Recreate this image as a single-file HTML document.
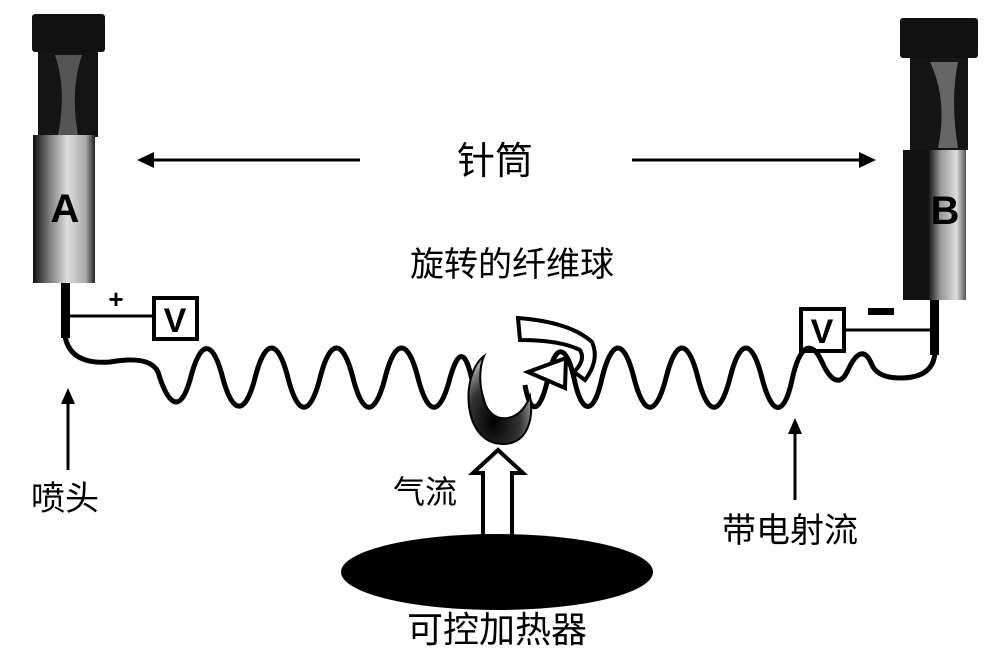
<!DOCTYPE html>
<html><head><meta charset="utf-8"><style>
html,body{margin:0;padding:0;background:#fff}
svg{display:block}
text{font-family:"Liberation Sans","Noto Sans CJK SC",sans-serif;fill:#000}
</style></head><body>
<svg width="1000" height="656" viewBox="0 0 1000 656" xmlns="http://www.w3.org/2000/svg">
<defs>
<linearGradient id="lg" x1="0" x2="1" y1="0" y2="0">
<stop offset="0" stop-color="#111"/><stop offset="0.25" stop-color="#777"/><stop offset="0.55" stop-color="#ddd"/><stop offset="0.85" stop-color="#aaa"/><stop offset="1" stop-color="#222"/>
</linearGradient>
<linearGradient id="lgb" x1="0" x2="1" y1="0" y2="0">
<stop offset="0" stop-color="#111"/><stop offset="0.4" stop-color="#111"/><stop offset="0.6" stop-color="#999"/><stop offset="0.85" stop-color="#ddd"/><stop offset="1" stop-color="#555"/>
</linearGradient>
<radialGradient id="ball" cx="0.4" cy="0.75" r="0.7">
<stop offset="0" stop-color="#000"/><stop offset="0.6" stop-color="#333"/><stop offset="1" stop-color="#aaa"/>
</radialGradient>
</defs>

<!-- Syringe A -->
<rect x="32" y="14" width="73" height="38" rx="3" fill="#111"/>
<rect x="38" y="52" width="60" height="85" fill="#151515"/>
<path d="M55 55 Q67 90 58 135 L78 135 Q70 90 82 55 Z" fill="#555"/>
<rect x="33" y="135" width="62" height="148" fill="url(#lg)"/>
<text x="65" y="222" font-size="40" font-weight="bold" text-anchor="middle">A</text>
<rect x="61" y="283" width="9" height="55" fill="#000"/>
<line x1="70" y1="316" x2="153" y2="316" stroke="#000" stroke-width="3"/>
<text x="116" y="308" font-size="26" font-weight="bold" text-anchor="middle">+</text>
<rect x="154" y="298" width="43" height="41" fill="#fff" stroke="#000" stroke-width="4"/>
<text x="175" y="332" font-size="34" font-weight="bold" text-anchor="middle">V</text>

<!-- Syringe B -->
<rect x="900" y="18" width="78" height="40" rx="3" fill="#111"/>
<rect x="910" y="58" width="58" height="92" fill="#151515"/>
<path d="M930 62 Q948 100 938 148 L958 148 Q950 100 958 62 Z" fill="#666"/>
<rect x="903" y="150" width="63" height="150" fill="url(#lgb)"/>
<text x="945" y="224" font-size="40" font-weight="bold" text-anchor="middle" fill="#111">B</text>
<rect x="930" y="300" width="9" height="55" fill="#000"/>
<line x1="845" y1="330" x2="932" y2="330" stroke="#000" stroke-width="3"/>
<rect x="868" y="308" width="26" height="7" fill="#000"/>
<rect x="801" y="309" width="43" height="42" fill="#fff" stroke="#000" stroke-width="4"/>
<text x="822" y="343" font-size="34" font-weight="bold" text-anchor="middle">V</text>

<!-- Jets -->
<path d="M65 336 Q70 365 110 362 Q150 355 158 372 C168 405 180 415 190 380 C200 340 212 338 222 375 C232 415 245 417 255 378 C265 338 278 338 288 378 C298 417 310 417 320 378 C330 338 343 338 353 378 C363 417 375 417 385 378 C395 338 408 338 418 378 C428 417 440 417 450 378 C458 350 465 348 472 380"
 fill="none" stroke="#000" stroke-width="5"/>
<path d="M935 350 Q935 378 900 378 Q878 378 872 365 C864 345 855 355 848 370 C840 388 830 380 822 362 C812 340 800 343 792 380 C784 417 772 417 762 378 C752 338 740 338 730 378 C720 417 708 417 698 378 C688 338 676 338 666 378 C656 417 644 417 634 378 C624 338 612 338 602 378 C594 415 582 417 574 378 C566 343 555 343 548 378 C540 415 530 415 525 385"
 fill="none" stroke="#000" stroke-width="5"/>

<!-- ball -->
<path d="M484 356 C460 375 462 444 503 444 C528 444 534 418 530 396 C520 425 490 425 484 400 C479 385 479 368 484 356 Z" fill="url(#ball)" stroke="#000" stroke-width="2"/>
<!-- rotation arrow -->
<path d="M518 318 L520 340 Q560 340 580 350 Q586 360 574 372 L585 380 Q600 360 592 342 Q570 322 518 318 Z" fill="#fff" stroke="#000" stroke-width="4"/>
<path d="M528 372 L566 358 L565 388 Z" fill="#fff" stroke="#000" stroke-width="4"/>

<!-- arrows -->
<line x1="360" y1="160" x2="150" y2="160" stroke="#000" stroke-width="3"/>
<path d="M137 160 L154 152 L154 168 Z" fill="#000"/>
<line x1="632" y1="160" x2="862" y2="160" stroke="#000" stroke-width="3"/>
<path d="M876 160 L859 152 L859 168 Z" fill="#000"/>
<line x1="68" y1="470" x2="68" y2="400" stroke="#000" stroke-width="3"/>
<path d="M68 388 L61 404 L75 404 Z" fill="#000"/>
<line x1="795" y1="500" x2="795" y2="430" stroke="#000" stroke-width="3"/>
<path d="M795 418 L788 434 L802 434 Z" fill="#000"/>

<!-- hollow airflow arrow -->
<path d="M483 535 L483 473 L473 473 L498 450 L523 473 L512 473 L512 535" fill="#fff" stroke="#000" stroke-width="4"/>

<!-- heater -->
<ellipse cx="497" cy="572" rx="156" ry="38" fill="#000"/>

<!-- labels -->
<text x="495" y="174" font-size="38" text-anchor="middle">针筒</text>
<text x="512" y="276" font-size="34" text-anchor="middle">旋转的纤维球</text>
<text x="65" y="510" font-size="34" text-anchor="middle">喷头</text>
<text x="425" y="503" font-size="32" text-anchor="middle">气流</text>
<text x="790" y="542" font-size="34" text-anchor="middle">带电射流</text>
<text x="497" y="642" font-size="36" text-anchor="middle">可控加热器</text>
</svg>
</body></html>
